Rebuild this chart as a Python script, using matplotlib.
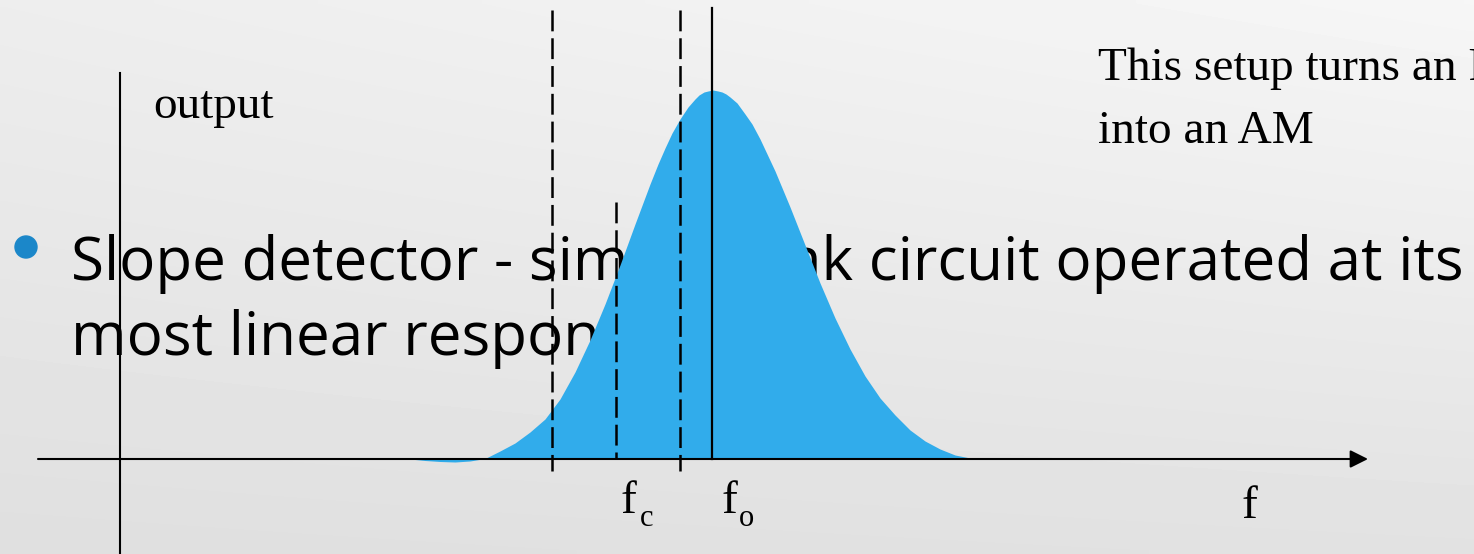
import numpy as np
import matplotlib
matplotlib.use("Agg")
import matplotlib.pyplot as plt
from matplotlib.patches import Circle

# response curve (x in px, height above the f axis in px)
curve_x = [410, 425, 440, 455, 470, 485, 500, 515, 530, 545, 560, 575, 590, 605,
           620, 635, 650, 658, 665, 672, 680, 688, 695, 699, 704, 708, 713, 718,
           722, 726, 730, 737, 745, 752, 760, 775, 790,
           805, 820, 835, 850, 865, 880, 895, 910, 925, 940, 955, 970, 985]
curve_h = [0, -1.5, -2.5, -3, -2, 0.5, 8, 16, 27, 40, 60, 87, 119, 155,
           194, 235, 275, 295, 311, 326, 340, 352, 360, 364, 367, 368, 369, 368,
           367, 365, 362, 356, 345, 335, 320, 288, 252,
           214, 176, 141, 110, 83, 61, 44, 29, 18, 10, 4, 1, 0]

dashed_x = [552, 616, 680]
dashed_top = [10, 202, 10]
dashed_bottom = [471, 459, 471]
fo_x = 712

bullet_lines = ["Slope detector - simple tank circuit operated at its",
                "most linear response"]
note_lines = ["This setup turns an FM", "into an AM"]

W, H = 1474, 554
base_y = 459

fig = plt.figure(figsize=(W / 100, H / 100), dpi=100)
ax = fig.add_axes([0, 0, 1, 1])
ax.set_xlim(0, W)
ax.set_ylim(H, 0)
ax.axis('off')

# slide background, light grey gradient
u = np.linspace(0, 1, 200)[None, :]
v = np.linspace(0, 1, 80)[:, None]
bg = (0.93 * (1 - u) + 0.965 * u) * (1 - v) + (0.875 * (1 - u) + 0.885 * u) * v
ax.imshow(bg, extent=(0, W, H, 0), cmap='gray', vmin=0, vmax=1,
          aspect='auto', zorder=0, interpolation='bilinear')

# bullet text (under the curve)
ax.add_patch(Circle((26, 247), 11, color='#1B87C9', zorder=2))
t1 = ax.text(71, 280, bullet_lines[0], fontsize=40, family='Open Sans',
             va='baseline', zorder=2)
fig.canvas.draw()
fs = 40 * 1391 / t1.get_window_extent().width
t1.set_fontsize(fs)
ax.text(71, 355, bullet_lines[1], fontsize=fs, family='Open Sans',
        va='baseline', zorder=2)

# filled response
cx = np.array(curve_x)
ch = np.array(curve_h)
ax.fill_between(cx, base_y - ch, base_y, color='#31ACEB', lw=0, zorder=3)

# axes of the sketch
ax.plot([120, 120], [73, H], color='k', lw=1.5, zorder=4)
ax.annotate('', xy=(1368, base_y), xytext=(38, base_y),
            arrowprops=dict(arrowstyle='-|>', mutation_scale=27, lw=1.5,
                            color='k', shrinkA=0, shrinkB=0), zorder=4)

plt.rcParams['lines.scale_dashes'] = False
for xx, y0, y1 in zip(dashed_x, dashed_top, dashed_bottom):
    ax.plot([xx, xx], [y0, y1], color='k', lw=1.8, ls=(0, (15, 5)),
            zorder=4, solid_capstyle='butt', dash_capstyle='butt')
ax.plot([fo_x, fo_x], [8, base_y], color='k', lw=1.6, zorder=4)

serif = 'Liberation Serif'
ax.text(153, 118, 'output', fontsize=34, family=serif, va='baseline', zorder=4)
ax.text(1098, 80, note_lines[0], fontsize=34, family=serif, va='baseline', zorder=4)
ax.text(1098, 143, note_lines[1], fontsize=34, family=serif, va='baseline', zorder=4)

ax.text(621, 513, 'f', fontsize=34, family=serif, va='baseline', zorder=4)
ax.text(640, 526, 'c', fontsize=22, family=serif, va='baseline', zorder=4)
ax.text(722, 513, 'f', fontsize=34, family=serif, va='baseline', zorder=4)
ax.text(739, 526, 'o', fontsize=22, family=serif, va='baseline', zorder=4)
ax.text(1242, 518, 'f', fontsize=34, family=serif, va='baseline', zorder=4)

fig.savefig('out.png', dpi=100)
